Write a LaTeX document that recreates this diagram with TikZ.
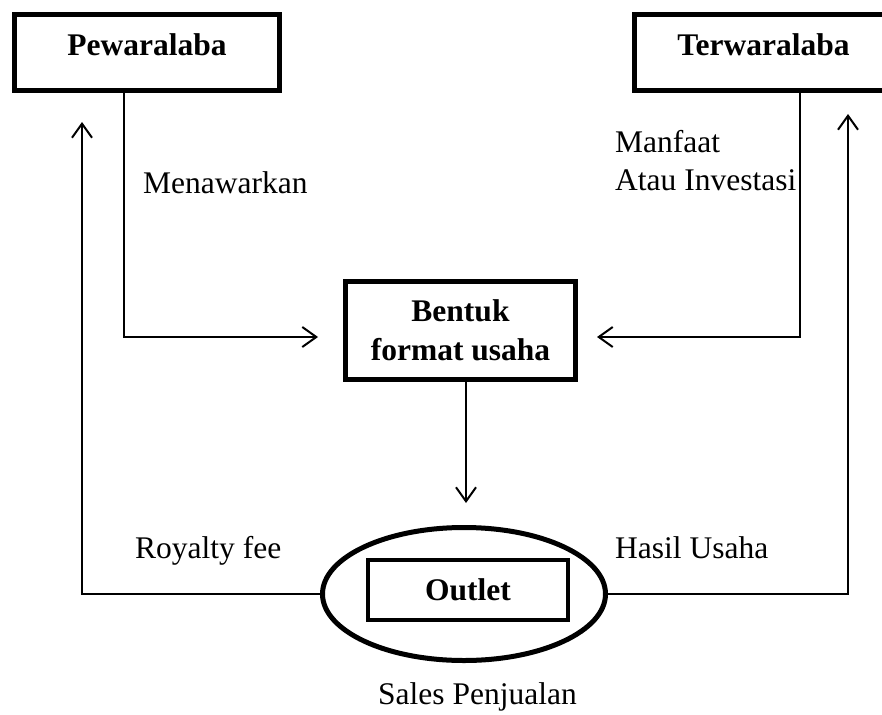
\documentclass[tikz,border=0pt]{standalone}
\usepackage{fontspec}
\setmainfont{Liberation Serif}
\usetikzlibrary{shapes.geometric,arrows.meta}
\begin{document}
\begin{tikzpicture}[x=1pt,y=-1pt,
  every node/.style={font=\fontsize{31.5}{39}\selectfont, inner sep=0pt},
  bigbox/.style={draw, rectangle, line width=5pt, font=\fontsize{31.5}{39}\selectfont\bfseries, align=center},
  lbl/.style={anchor=base west},
  arr/.style={line width=2pt, -{Straight Barb[length=14pt,width=20pt,line width=2pt]}},
  conn/.style={line width=2pt}]
\clip (0,0) rectangle (882,714);
\fill[white] (0,0) rectangle (882,714);

% boxes
\node[bigbox, minimum width=265pt, minimum height=76pt, text height=22pt, text depth=15pt] (pew) at (147,52.5) {Pewaralaba};
\node[bigbox, minimum width=258pt, minimum height=76pt, text height=22pt, text depth=15pt] (ter) at (763.5,52.5) {Terwaralaba};
\node[bigbox, minimum width=230pt, minimum height=98pt] (bentuk) at (460.5,330) {Bentuk\\format usaha};
\node[draw, ellipse, line width=5pt, minimum width=283pt, minimum height=133pt] (outletell) at (464,594) {};
\node[bigbox, line width=4.5pt, minimum width=200pt, minimum height=60pt] (outlet) at (468,590) {Outlet};

% helper coordinates
\coordinate (x124) at (124,0);
\coordinate (x800) at (800,0);
\coordinate (x466) at (466,0);
\coordinate (inL) at (318,337);
\coordinate (inR) at (597,337);
\coordinate (outTop) at (466,503);
\coordinate (upL) at (82,122);
\coordinate (upR) at (848,114);

% connectors
\draw[arr] (pew.south -| x124) |- (inL);
\draw[arr] (ter.south -| x800) |- (inR);
\draw[arr] (bentuk.south -| x466) -- (outTop);
\draw[arr] (outletell.west) -| (upL);
\draw[arr] (outletell.east) -| (upR);

% labels
\node[lbl] (menawarkan) at (143,193) {Menawarkan};
\node[lbl] (manfaat) at (615,153) {Manfaat};
\node[lbl] (atau) at (615,190) {Atau Investasi};
\node[lbl] (royalty) at (135,558) {Royalty fee};
\node[lbl] (hasil) at (615,558) {Hasil Usaha};
\node[lbl] (sales) at (378,704) {Sales Penjualan};
\end{tikzpicture}
\end{document}
